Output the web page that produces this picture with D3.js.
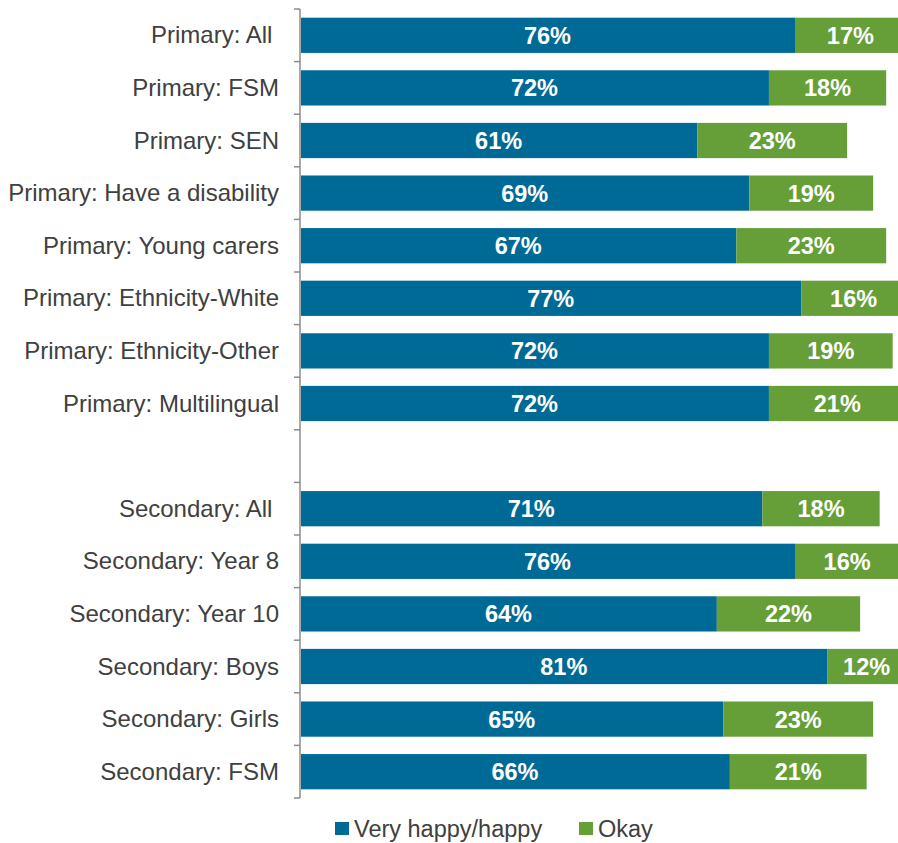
<!DOCTYPE html>
<html>
<head>
<meta charset="utf-8">
<script src="https://cdn.jsdelivr.net/npm/d3@7"></script>
<style>
  html, body { margin: 0; padding: 0; background: #fff; overflow: hidden; }
  svg { display: block; font-family: "Liberation Sans", Arial, sans-serif; }
</style>
</head>
<body>
<svg id="chart" width="898" height="843"></svg>
<script>
// Groups shown down the chart; the empty entry leaves a gap between phases
const categories = [
  "Primary: All ", "Primary: FSM", "Primary: SEN", "Primary: Have a disability",
  "Primary: Young carers", "Primary: Ethnicity-White", "Primary: Ethnicity-Other",
  "Primary: Multilingual", "",
  "Secondary: All ", "Secondary: Year 8", "Secondary: Year 10", "Secondary: Boys",
  "Secondary: Girls", "Secondary: FSM"
];
const happy = [76, 72, 61, 69, 67, 77, 72, 72, null, 71, 76, 64, 81, 65, 66];
const okay  = [17, 18, 23, 19, 23, 16, 19, 21, null, 18, 16, 22, 12, 23, 21];
const seriesNames = ["Very happy/happy", "Okay"];
const seriesColors = ["#006a96", "#669e38"];

const svg = d3.select("#chart");
const axisX = 300, plotTop = 9, plotBottom = 798;

const x = d3.scaleLinear().domain([0, 100]).range([axisX, axisX + 651.3]);
const y = d3.scaleBand().domain(d3.range(categories.length))
  .range([plotTop, plotBottom]).paddingInner(0.33).paddingOuter(0.165);

const rows = categories.map((c, i) => ({ i, c, happy: happy[i], okay: okay[i] }))
  .filter(d => d.happy != null);

const g = svg.append("g");

// Stacked bars
rows.forEach(d => {
  const segs = [
    { start: 0, v: d.happy, color: seriesColors[0] },
    { start: d.happy, v: d.okay, color: seriesColors[1] }
  ];
  segs.forEach(s => {
    g.append("rect")
      .attr("x", x(s.start) + (s.start === 0 ? 1 : 0))
      .attr("y", y(d.i))
      .attr("width", x(s.start + s.v) - x(s.start) - (s.start === 0 ? 1 : 0))
      .attr("height", y.bandwidth())
      .attr("fill", s.color);
    g.append("text")
      .attr("x", (x(s.start) + x(s.start + s.v)) / 2)
      .attr("y", y(d.i) + y.bandwidth() / 2)
      .attr("dy", "0.36em")
      .attr("text-anchor", "middle")
      .attr("fill", "#fff")
      .attr("font-weight", "bold")
      .attr("font-size", "23.5px")
      .text(s.v + "%");
  });
});

// Category axis with boundary ticks
const yAxisG = svg.append("g");
yAxisG.append("line")
  .attr("x1", axisX).attr("x2", axisX)
  .attr("y1", plotTop).attr("y2", plotBottom)
  .attr("stroke", "#8c8c8c").attr("stroke-width", 1.5);
const step = (plotBottom - plotTop) / categories.length;
d3.range(categories.length + 1).forEach(k => {
  yAxisG.append("line")
    .attr("x1", axisX - 6).attr("x2", axisX)
    .attr("y1", plotTop + k * step).attr("y2", plotTop + k * step)
    .attr("stroke", "#8c8c8c").attr("stroke-width", 1.5);
});
categories.forEach((c, i) => {
  if (!c) return;
  yAxisG.append("text")
    .attr("x", 279)
    .attr("y", y(i) + y.bandwidth() / 2)
    .attr("dy", "0.34em")
    .attr("text-anchor", "end")
    .attr("fill", "#404040")
    .attr("font-size", "24px")
    .style("white-space", "pre")
    .text(c);
});

// Legend
const legend = svg.append("g");
const legendX = [335, 579];
seriesNames.forEach((name, k) => {
  legend.append("rect")
    .attr("x", legendX[k]).attr("y", 822)
    .attr("width", 14).attr("height", 13)
    .attr("fill", seriesColors[k]);
  legend.append("text")
    .attr("x", legendX[k] + 19).attr("y", 828.5)
    .attr("dy", "0.36em")
    .attr("fill", "#404040")
    .attr("font-size", "23.5px")
    .text(name);
});
</script>
</body>
</html>
